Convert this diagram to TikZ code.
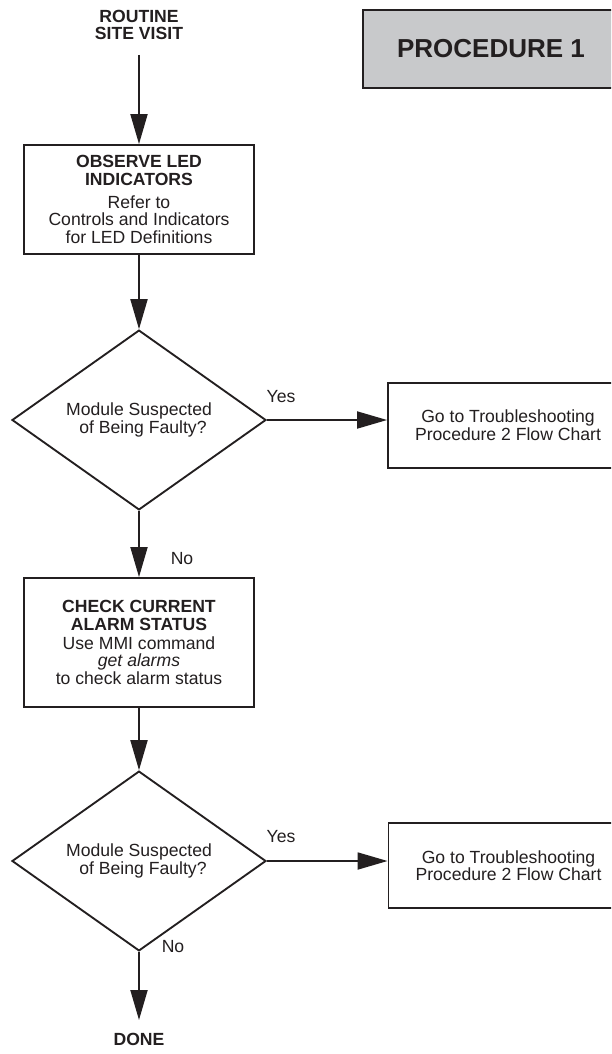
\documentclass[tikz,border=0pt]{standalone}
\usepackage{fontspec}
\setmainfont{Liberation Sans}
\usetikzlibrary{arrows.meta,shapes.geometric}
\definecolor{ink}{RGB}{35,31,32}
\definecolor{procgray}{RGB}{200,201,203}
\tikzset{
  txt/.style={font=\fontsize{13.2pt}{13.2pt}\selectfont, text=ink, align=center, inner sep=0pt},
  stepbox/.style={txt, rectangle, draw=ink, line width=1.4pt, minimum width=172.5pt},
  gobox/.style={txt, rectangle, draw=ink, line width=1.4pt, minimum width=180pt, minimum height=63.75pt},
  dia/.style={txt, diamond, draw=ink, line width=1.4pt, minimum width=190.5pt, minimum height=100.5pt},
  procbox/.style={rectangle, draw=ink, fill=procgray, line width=1.4pt, minimum width=192pt, minimum height=58.5pt,
    text=ink, inner sep=0pt, font=\fontsize{19.5pt}{19.5pt}\selectfont\bfseries},
  lbl/.style={txt},
  arr/.style={draw=ink, line width=1.4pt, -{Triangle[length=22.5pt,width=12.75pt]}}
}
\begin{document}
\begin{tikzpicture}[x=0.75pt,y=-0.75pt]
\useasboundingbox (0,0) rectangle (611,1054);
\clip (0,0) rectangle (611,1054);
\fill[white] (0,0) rectangle (611,1054);

\node[procbox] (proc) at (491,49) {PROCEDURE 1};

\node[txt, font=\fontsize{13.2pt}{13.2pt}\selectfont\bfseries] (start) at (139,25) {ROUTINE\\SITE VISIT};

\node[stepbox, minimum height=81.75pt] (box1) at (139,199.5)
  {\textbf{OBSERVE LED}\\\textbf{INDICATORS}\\[4pt]Refer to\\Controls and Indicators\\for LED Definitions};

\node[dia] (d1) at (139,420) {Module Suspected\\\hspace*{6pt}of Being Faulty?};

\node[gobox] (r1) at (508,425.5) {Go to Troubleshooting\\Procedure 2 Flow Chart};

\node[stepbox, minimum height=96.75pt] (box2) at (139,642.5)
  {\textbf{CHECK CURRENT}\\\textbf{ALARM STATUS}\\[1pt]Use MMI command\\\textit{get alarms}\\to check alarm status};

\node[dia] (d2) at (139,861) {Module Suspected\\\hspace*{6pt}of Being Faulty?};

\node[gobox] (r2) at (508.5,865.5) {Go to Troubleshooting\\Procedure 2 Flow Chart};

\node[txt, font=\fontsize{13.2pt}{13.2pt}\selectfont\bfseries, anchor=north] (done) at (139,1033) {DONE};

\node[lbl] (yes1) at (281,397) {Yes};
\node[lbl] (no1) at (182,559) {No};
\node[lbl] (yes2) at (281,837) {Yes};
\node[lbl] (no2) at (173,947) {No};

\draw[arr, shorten <=11pt] (start.south) -- (box1.north);
\draw[arr] (box1.south) -- (d1.north);
\draw[arr] (d1.east) -- (d1.east -| r1.west);
\draw[arr] (d1.south) -- (box2.north);
\draw[arr] (box2.south) -- (d2.north);
\draw[arr] (d2.east) -- (d2.east -| r2.west);
\draw[arr, shorten >=9.75pt] (d2.south) -- (done.north);
\end{tikzpicture}
\end{document}
